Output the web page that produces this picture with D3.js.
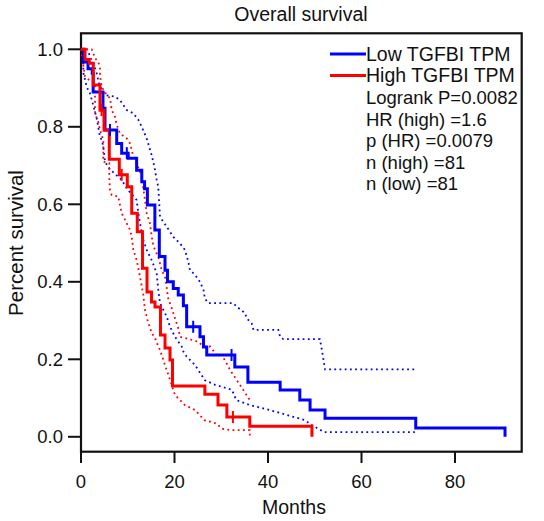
<!DOCTYPE html>
<html>
<head>
<meta charset="utf-8">
<script src="https://cdn.jsdelivr.net/npm/d3@7"></script>
<style>
html,body{margin:0;padding:0;background:#fff;}
svg{display:block;}
text{font-family:"Liberation Sans",Arial,Helvetica,sans-serif;fill:#111;}
</style>
</head>
<body>
<svg id="chart" width="544" height="521"></svg>
<script>
// ---- data (months, survival) ----
const title = "Overall survival";
const xLabel = "Months";
const yLabel = "Percent survival";
const xTicks = [0, 20, 40, 60, 80];
const yTicks = [0, 0.2, 0.4, 0.6, 0.8, 1.0];
const legendLabels = ["Low TGFBI TPM", "High TGFBI TPM"];
const statsLines = ["Logrank P=0.0082", "HR (high) =1.6", "p (HR) =0.0079", "n (high) =81", "n (low) =81"];

// step points: [time, survival after time]
const lowSteps = [[0,1],[0.5,0.967],[1.5,0.95],[2.4,0.938],[2.6,0.89],[4.7,0.848],[5.13,0.792],[7.64,0.757],[8.7,0.732],[10.1,0.719],[11.9,0.688],[13.0,0.658],[13.6,0.64],[14.2,0.598],[15.8,0.534],[16.75,0.465],[17.97,0.43],[18.5,0.4],[19.74,0.383],[20.8,0.366],[21.9,0.338],[22.6,0.284],[25.45,0.258],[26.2,0.232],[26.9,0.211],[32.9,0.18],[35.7,0.141],[42.6,0.121],[46.8,0.095],[49.0,0.069],[52.2,0.048],[71.6,0.023],[90.7,0]];
const highSteps = [[0,1],[0.86,0.974],[1.78,0.964],[2.63,0.908],[4.06,0.843],[4.92,0.792],[6.05,0.716],[8.19,0.676],[9.9,0.645],[10.85,0.577],[12.04,0.529],[13.16,0.435],[14.12,0.374],[15.08,0.348],[15.83,0.335],[17.0,0.263],[17.97,0.229],[19.04,0.198],[19.57,0.131],[26.5,0.11],[29.3,0.082],[31.2,0.051],[36.1,0.027],[49.4,0]];

// confidence bands
const lowUpper = [[0,1],[1.3,1],[1.56,0.994],[1.93,0.981],[2.63,0.964],[3.36,0.938],[3.91,0.908],[5.13,0.882],[7.27,0.878],[8.34,0.869],[9.78,0.843],[11.19,0.835],[12.26,0.818],[12.98,0.8],[14.05,0.77],[15.12,0.727],[15.83,0.689],[16.19,0.663],[16.53,0.645],[16.9,0.568],[18.33,0.542],[19.74,0.516],[21.18,0.499],[22.25,0.482],[22.95,0.452],[23.3,0.43],[24.4,0.418],[25.45,0.4],[26.2,0.379],[26.5,0.357],[27.2,0.345],[32.6,0.345],[33.3,0.336],[35.1,0.319],[35.4,0.306],[36.5,0.293],[36.9,0.276],[42.2,0.276],[42.6,0.258],[43.3,0.252],[51.1,0.252],[51.6,0.219],[52.2,0.174],[71.4,0.174],[71.7,0.168]];
const lowLower = [[0,1],[0.5,1],[0.5,0.94],[0.9,0.92],[1.22,0.903],[1.93,0.886],[2.99,0.839],[3.36,0.822],[4.06,0.774],[4.43,0.766],[4.77,0.749],[5.13,0.71],[6.2,0.69],[8.7,0.663],[9.78,0.641],[11.9,0.611],[12.26,0.577],[12.62,0.551],[13.33,0.508],[14.05,0.482],[15.12,0.456],[16.19,0.422],[16.53,0.379],[16.9,0.345],[18.33,0.31],[19.04,0.284],[20.1,0.258],[21.54,0.233],[21.9,0.22],[22.6,0.207],[24.4,0.185],[26.5,0.146],[28.7,0.134],[32.3,0.121],[33.2,0.095],[36.1,0.082],[40.4,0.069],[44.7,0.054],[47.9,0.043],[49.0,0.033],[52.0,0.012],[71.4,0.012]];
const highUpper = [[0,1],[2.29,1],[2.63,0.99],[2.99,0.977],[3.7,0.968],[4.06,0.951],[4.06,0.934],[4.43,0.903],[5.5,0.882],[6.2,0.874],[6.57,0.843],[7.27,0.826],[7.64,0.805],[8.34,0.783],[9.78,0.77],[10.48,0.757],[10.85,0.74],[11.19,0.723],[11.9,0.706],[12.62,0.684],[12.98,0.671],[13.33,0.641],[13.69,0.611],[14.05,0.577],[14.76,0.551],[15.12,0.516],[15.47,0.495],[15.83,0.482],[16.53,0.465],[17.26,0.43],[17.97,0.413],[18.67,0.357],[19.4,0.332],[20.1,0.306],[20.8,0.28],[21.18,0.258],[22.6,0.254],[23.7,0.25],[25.1,0.245],[26.2,0.233],[27.6,0.233],[29.0,0.211],[30.1,0.211],[31.0,0.193],[31.9,0.172],[34.0,0.134],[36.1,0.095]];
const highLower = [[0,1],[0.86,0.93],[1.78,0.92],[2.99,0.912],[2.99,0.865],[2.99,0.839],[3.36,0.822],[3.7,0.813],[4.06,0.792],[4.77,0.766],[4.77,0.71],[6.05,0.706],[6.05,0.667],[6.2,0.637],[6.57,0.624],[7.98,0.62],[8.34,0.598],[8.7,0.577],[9.78,0.551],[10.48,0.534],[10.85,0.516],[11.19,0.482],[11.9,0.456],[12.62,0.413],[13.33,0.366],[13.69,0.327],[14.33,0.296],[15.12,0.268],[15.83,0.255],[16.53,0.233],[16.9,0.224],[17.97,0.185],[19.04,0.147],[20.1,0.108],[22.2,0.082],[24.4,0.069],[26.4,0.043],[29.0,0.034],[30.1,0.021],[32.0,0.017],[36.1,0.017],[36.1,0.003]];

// censor marks
const lowCensor = [[6.2,0.792],[9.8,0.732],[24.0,0.284],[32.2,0.211]];
const highCensor = [[4.4,0.843],[8.7,0.676],[32.5,0.051]];

const colors = {low: "#0000ff", high: "#ff0000"};

// ---- drawing ----
const svg = d3.select("#chart");
const frame = {left: 81, top: 33.3, right: 521.7, bottom: 451.7};
const x = d3.scaleLinear().domain([0, 80]).range([81, 455]);
const y = d3.scaleLinear().domain([0, 1]).range([436.8, 49.3]);

svg.append("text").attr("x", 301).attr("y", 21).attr("text-anchor", "middle")
  .attr("font-size", 19.5).text(title);

// frame
svg.append("rect").attr("x", frame.left).attr("y", frame.top)
  .attr("width", frame.right - frame.left).attr("height", frame.bottom - frame.top)
  .attr("fill", "none").attr("stroke", "#111").attr("stroke-width", 2.2);

// y axis ticks
const yg = svg.append("g");
yTicks.forEach(t => {
  yg.append("line").attr("x1", 68).attr("x2", frame.left).attr("y1", y(t)).attr("y2", y(t))
    .attr("stroke", "#111").attr("stroke-width", 2);
  yg.append("text").attr("x", 63).attr("y", y(t) + 6.6).attr("text-anchor", "end")
    .attr("font-size", 18.5).text(d3.format(".1f")(t));
});
// x axis ticks
const xg = svg.append("g");
xTicks.forEach(t => {
  xg.append("line").attr("x1", x(t)).attr("x2", x(t)).attr("y1", frame.bottom).attr("y2", 463)
    .attr("stroke", "#111").attr("stroke-width", 2);
  xg.append("text").attr("x", x(t)).attr("y", 488).attr("text-anchor", "middle")
    .attr("font-size", 18.5).text(t);
});
svg.append("text").attr("x", 294).attr("y", 514).attr("text-anchor", "middle")
  .attr("font-size", 19.5).text(xLabel);
svg.append("text").attr("transform", "translate(23,243) rotate(-90)").attr("text-anchor", "middle")
  .attr("font-size", 20.5).text(yLabel);

const stepLine = d3.line().x(d => x(d[0])).y(d => y(d[1])).curve(d3.curveStepAfter);
const ciLine = d3.line().x(d => x(d[0])).y(d => y(d[1]));

function drawCI(data, color) {
  svg.append("path").attr("d", ciLine(data)).attr("fill", "none")
    .attr("stroke", color).attr("stroke-width", 1.8).attr("stroke-dasharray", "1.8 3.4");
}
drawCI(lowUpper, colors.low);
drawCI(lowLower, colors.low);
drawCI(highUpper, colors.high);
drawCI(highLower, colors.high);

function drawSteps(data, color) {
  svg.append("path").attr("d", stepLine(data)).attr("fill", "none")
    .attr("stroke", color).attr("stroke-width", 3);
}
drawSteps(lowSteps, colors.low);
drawSteps(highSteps, colors.high);

function drawCensor(data, color) {
  svg.append("g").selectAll("line").data(data).join("line")
    .attr("x1", d => x(d[0])).attr("x2", d => x(d[0]))
    .attr("y1", d => y(d[1]) - 6).attr("y2", d => y(d[1]) + 6)
    .attr("stroke", color).attr("stroke-width", 2);
}
drawCensor(lowCensor, colors.low);
drawCensor(highCensor, colors.high);

// legend
const legX = 330, legY = 54, lineH = 21.6;
[colors.low, colors.high].forEach((c, i) => {
  svg.append("line").attr("x1", legX).attr("x2", legX + 36)
    .attr("y1", legY + i * lineH).attr("y2", legY + i * lineH)
    .attr("stroke", c).attr("stroke-width", 3);
});
const allLines = legendLabels.concat(statsLines);
allLines.forEach((s, i) => {
  svg.append("text").attr("x", 366).attr("y", legY + i * lineH + 6.7)
    .attr("font-size", i < 2 ? 19.5 : 18.5).text(s);
});
</script>
</body>
</html>
